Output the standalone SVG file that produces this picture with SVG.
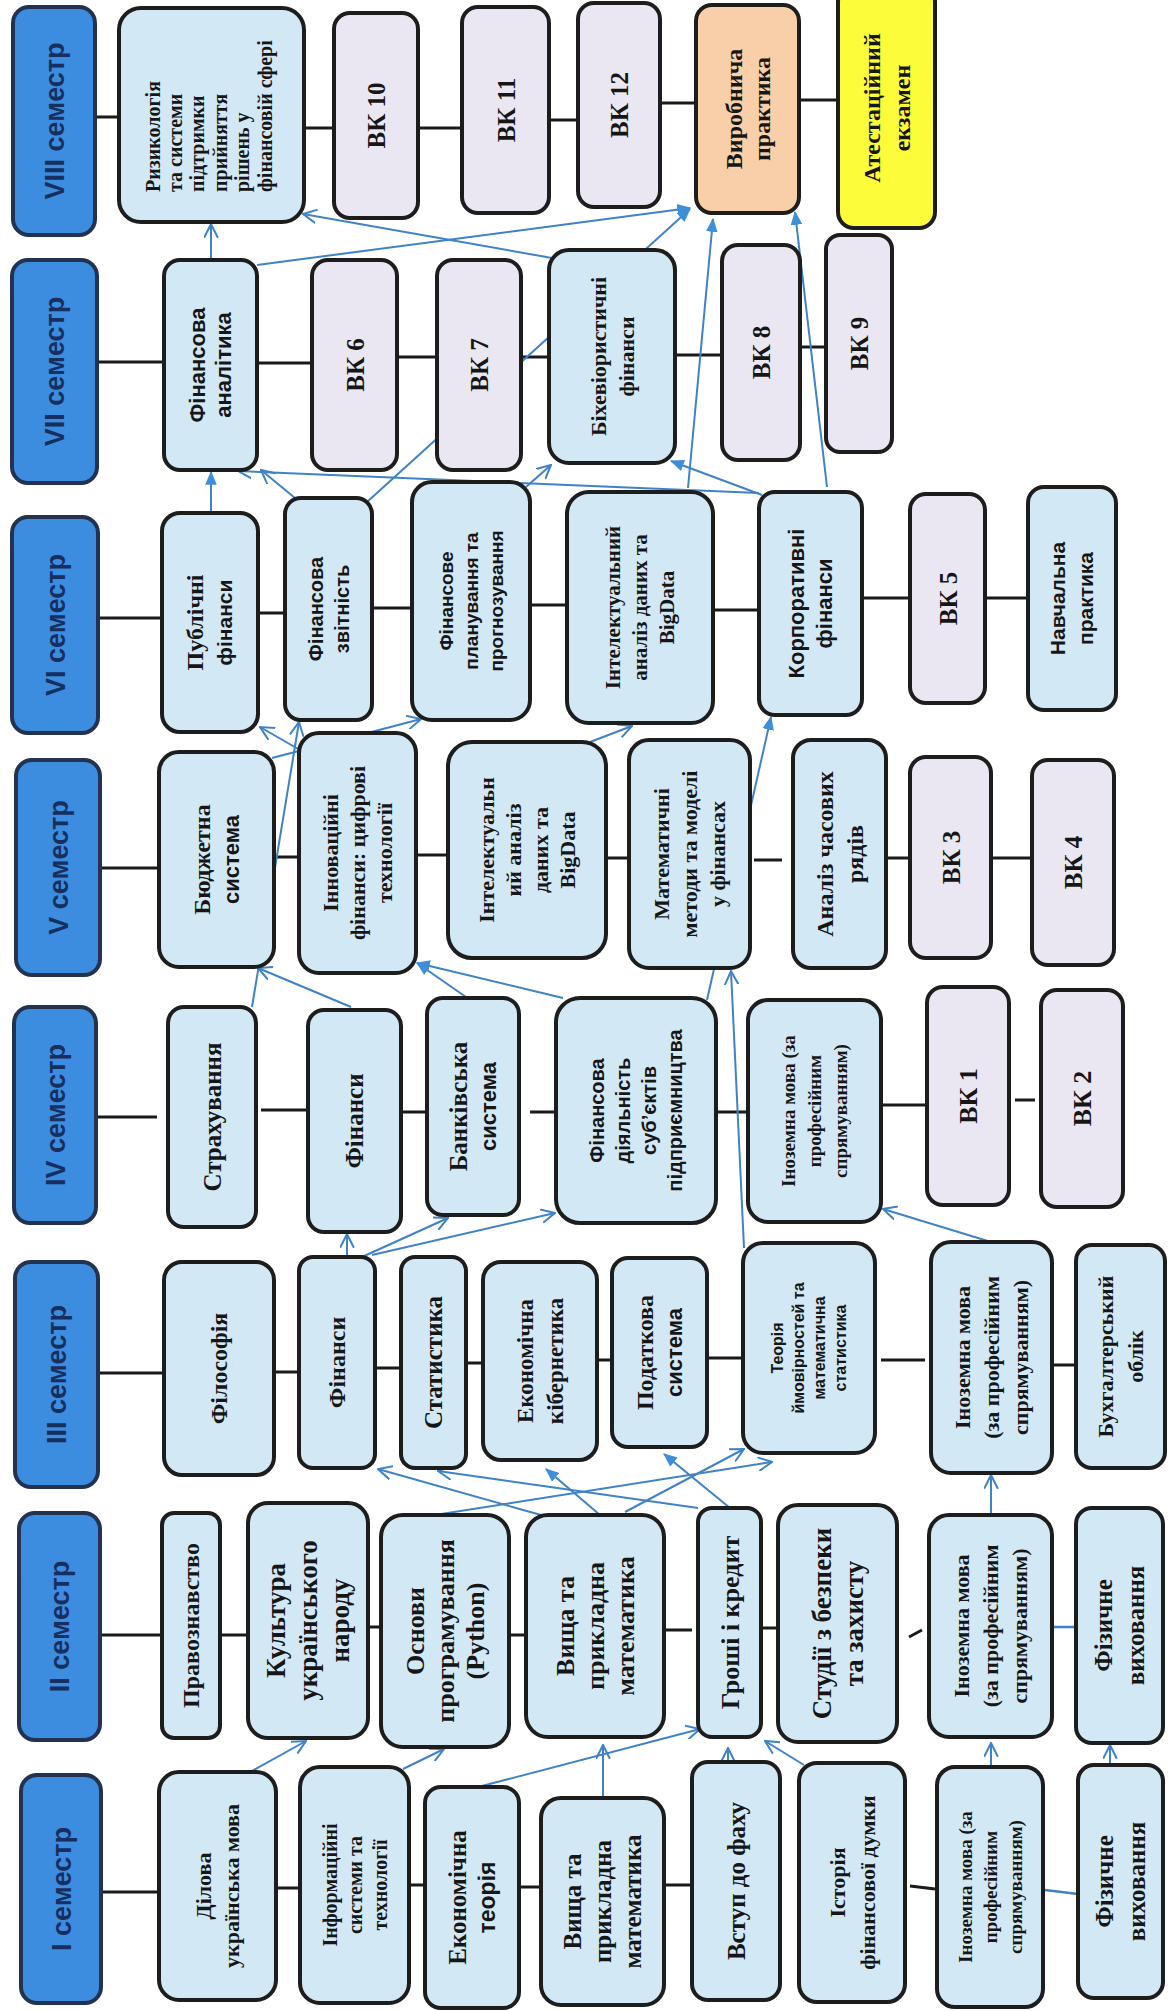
<svg xmlns="http://www.w3.org/2000/svg" width="1169" height="2011" viewBox="0 0 1169 2011">
<style>
.hd{fill:#3c8de0;stroke:#22324f;stroke-width:4}
.nb{fill:#d3e8f5;stroke:#1d1d1d;stroke-width:4}
.nv{fill:#ebe7f2;stroke:#1d1d1d;stroke-width:4}
.no{fill:#f8cfa8;stroke:#1d1d1d;stroke-width:4}
.ny{fill:#fcfc3a;stroke:#1d1d1d;stroke-width:4}
text{text-anchor:middle;fill:#161616}
.ht{font-family:"Liberation Sans",Arial,sans-serif;font-weight:bold;font-size:27px;fill:#172f5e}
.sf{font-family:"Liberation Serif","Times New Roman",serif;font-weight:bold}
.ss{font-family:"Liberation Sans",Arial,sans-serif;font-weight:bold}
.ln{stroke:#1a1a1a;stroke-width:3;fill:none}
.lb{stroke:#3f82c6;stroke-width:2.5;fill:none}
.ao{stroke:#3f82c6;stroke-width:2;fill:none;marker-end:url(#mo)}
.af{stroke:#3f82c6;stroke-width:2;fill:none;marker-end:url(#mf)}
</style>
<defs>
<marker id="mo" viewBox="0 0 12 12" refX="11" refY="6" markerWidth="15" markerHeight="15" markerUnits="userSpaceOnUse" orient="auto"><path d="M0,0.5 L11,6 L0,11.5" fill="none" stroke="#3f82c6" stroke-width="1.6"/></marker>
<marker id="mf" viewBox="0 0 12 12" refX="11" refY="6" markerWidth="14" markerHeight="14" markerUnits="userSpaceOnUse" orient="auto"><path d="M0,1 L12,6 L0,11 z" fill="#3f8fd8"/></marker>
</defs>
<rect width="1169" height="2011" fill="#ffffff"/>

<g id="connectors">
<path class="ln" d="M95,117H119 M304,128H334 M418,128H462 M549,120H578 M660,103H696 M799,100H838
M99,362H164 M257,363H312 M397,357H437 M521,357H549 M675,355H722 M800,347H826
M98,618H162 M258,613H285 M372,608H412 M530,605H567 M713,610H759 M862,598H910 M985,598H1028
M100,868H159 M274,857H299 M416,855H448 M606,858H629 M754,860H782 M886,858H910 M991,858H1032
M96,1117H157 M261,1110H308 M401,1112H427 M530,1112H556 M716,1112H748 M881,1105H927 M1015,1100H1035
M98,1373H164 M274,1372H299 M375,1368H401 M466,1363H483 M597,1360H612 M707,1358H743 M881,1360H925 M1052,1365H1076
M100,1635H162 M220,1635H248 M368,1627H381 M509,1635H526 M664,1630H692 M761,1628H778 M909,1637L922,1630
M101,1892H159 M276,1888H300 M409,1885H425 M519,1887H541 M664,1885H690 M910,1886L935,1889"/>
<path class="lb" d="M1052,1627H1076 M1045,1890L1078,1894"/>
<line class="ao" x1="211" y1="260" x2="211" y2="224"/>
<line class="af" x1="257" y1="265" x2="690" y2="208"/>
<line class="ao" x1="552" y1="258" x2="303" y2="214"/>
<line class="af" x1="367" y1="502" x2="690" y2="209"/>
<line class="af" x1="688" y1="488" x2="713" y2="219"/>
<line class="af" x1="827" y1="487" x2="795" y2="212"/>
<line class="af" x1="211" y1="513" x2="211" y2="472"/>
<line class="ao" x1="295" y1="498" x2="261" y2="470"/>
<line class="ao" x1="759" y1="493" x2="238" y2="471"/>
<line class="af" x1="762" y1="495" x2="671" y2="461"/>
<line class="ao" x1="526" y1="487" x2="551" y2="465"/>
<line class="ao" x1="272" y1="758" x2="421" y2="719"/>
<line class="ao" x1="300" y1="750" x2="260" y2="727"/>
<line class="ao" x1="252" y1="1007" x2="299" y2="722"/>
<line class="ao" x1="351" y1="1007" x2="258" y2="968"/>
<line class="af" x1="466" y1="997" x2="417" y2="963"/>
<line class="af" x1="563" y1="998" x2="417" y2="963"/>
<line class="ao" x1="590" y1="742" x2="632" y2="726"/>
<line class="af" x1="707" y1="1000" x2="771" y2="717"/>
<line class="ao" x1="744" y1="1248" x2="731" y2="971"/>
<line class="ao" x1="991" y1="1242" x2="883" y2="1209"/>
<line class="ao" x1="347" y1="1257" x2="347" y2="1234"/>
<line class="ao" x1="362" y1="1257" x2="448" y2="1218"/>
<line class="ao" x1="372" y1="1255" x2="555" y2="1213"/>
<line class="ao" x1="541" y1="1515" x2="378" y2="1469"/>
<line class="ao" x1="698" y1="1508" x2="438" y2="1471"/>
<line class="ao" x1="422" y1="1517" x2="772" y2="1462"/>
<line class="ao" x1="625" y1="1512" x2="744" y2="1449"/>
<line class="af" x1="600" y1="1515" x2="546" y2="1469"/>
<line class="af" x1="730" y1="1508" x2="664" y2="1454"/>
<line class="ao" x1="991" y1="1515" x2="991" y2="1475"/>
<line class="ao" x1="250" y1="1772" x2="306" y2="1741"/>
<line class="ao" x1="403" y1="1769" x2="444" y2="1749"/>
<line class="ao" x1="478" y1="1787" x2="700" y2="1729"/>
<line class="ao" x1="603" y1="1798" x2="603" y2="1745"/>
<line class="ao" x1="728" y1="1762" x2="728" y2="1748"/>
<line class="ao" x1="804" y1="1765" x2="765" y2="1741"/>
<line class="ao" x1="991" y1="1767" x2="991" y2="1743"/>
<line class="ao" x1="1110" y1="1765" x2="1110" y2="1745"/>
</g>

<g id="h8"><rect class="hd" x="13" y="7" width="82" height="228" rx="16"/><text class="ht" transform="translate(54,121) rotate(-90)" y="9.5">VIII семестр</text></g>
<g id="h7"><rect class="hd" x="12" y="260" width="85" height="223" rx="16"/><text class="ht" transform="translate(54.5,371.5) rotate(-90)" y="9.5">VII семестр</text></g>
<g id="h6"><rect class="hd" x="12" y="517" width="86" height="216" rx="16"/><text class="ht" transform="translate(55,625) rotate(-90)" y="9.5">VI семестр</text></g>
<g id="h5"><rect class="hd" x="16" y="760" width="84" height="215" rx="16"/><text class="ht" transform="translate(58,867.5) rotate(-90)" y="9.5">V семестр</text></g>
<g id="h4"><rect class="hd" x="14" y="1007" width="82" height="216" rx="16"/><text class="ht" transform="translate(55,1115) rotate(-90)" y="9.5">IV семестр</text></g>
<g id="h3"><rect class="hd" x="15" y="1262" width="83" height="225" rx="16"/><text class="ht" transform="translate(56.5,1374.5) rotate(-90)" y="9.5">III семестр</text></g>
<g id="h2"><rect class="hd" x="19" y="1513" width="81" height="227" rx="16"/><text class="ht" transform="translate(59.5,1626.5) rotate(-90)" y="9.5">II семестр</text></g>
<g id="h1"><rect class="hd" x="21" y="1775" width="80" height="228" rx="16"/><text class="ht" transform="translate(61,1889) rotate(-90)" y="9.5">I семестр</text></g>

<g id="n_riz"><rect class="nb" x="119" y="8" width="185" height="214" rx="22"/><text class="sf" font-size="20" transform="translate(211.5,115) rotate(-90)" style="text-anchor:start"><tspan x="-77" y="-52">Ризикологія</tspan><tspan x="-77" y="-29.6">та системи</tspan><tspan x="-77" y="-7.2">підтримки</tspan><tspan x="-77" y="15.2">прийняття</tspan><tspan x="-77" y="37.6">рішень у</tspan><tspan x="-77" y="60">фінансовій сфері</tspan></text></g>
<g id="n_vk10"><rect class="nv" x="334" y="13" width="84" height="205" rx="16"/><text class="sf" font-size="25" transform="translate(376,115.5) rotate(-90)" y="9">ВК 10</text></g>
<g id="n_vk11"><rect class="nv" x="462" y="7" width="87" height="206" rx="16"/><text class="sf" font-size="25" transform="translate(505.5,110) rotate(-90)" y="9">ВК 11</text></g>
<g id="n_vk12"><rect class="nv" x="578" y="3" width="82" height="204" rx="16"/><text class="sf" font-size="25" transform="translate(619,105) rotate(-90)" y="9">ВК 12</text></g>
<g id="n_vyr"><rect class="no" x="696" y="5" width="103" height="208" rx="16"/><text class="sf" font-size="24" transform="translate(747.5,109) rotate(-90)"><tspan x="0" y="-5.6">Виробнича</tspan><tspan x="0" y="22.4">практика</tspan></text></g>
<g id="n_att"><rect class="ny" x="838" y="-14" width="97" height="242" rx="16"/><text class="sf" font-size="24" transform="translate(886.5,108) rotate(-90)"><tspan x="0" y="-6.6">Атестаційний</tspan><tspan x="0" y="23.4">екзамен</tspan></text></g>

<g id="n_fa"><rect class="nb" x="164" y="260" width="93" height="210" rx="16"/><text class="ss" font-size="22" transform="translate(210.5,365) rotate(-90)"><tspan x="0" y="-5.3">Фінансова</tspan><tspan x="0" y="20.7">аналітика</tspan></text></g>
<g id="n_vk6"><rect class="nv" x="312" y="260" width="85" height="210" rx="16"/><text class="sf" font-size="25" transform="translate(354.5,365) rotate(-90)" y="9">ВК 6</text></g>
<g id="n_vk7"><rect class="nv" x="437" y="260" width="84" height="210" rx="16"/><text class="sf" font-size="25" transform="translate(479,365) rotate(-90)" y="9">ВК 7</text></g>
<g id="n_bih"><rect class="nb" x="549" y="250" width="126" height="213" rx="20"/><text class="sf" font-size="22" transform="translate(612,356.5) rotate(-90)"><tspan x="0" y="-6.3">Біхевіористичні</tspan><tspan x="0" y="21.7">фінанси</tspan></text></g>
<g id="n_vk8"><rect class="nv" x="722" y="245" width="78" height="215" rx="16"/><text class="sf" font-size="25" transform="translate(761,352.5) rotate(-90)" y="9">ВК 8</text></g>
<g id="n_vk9"><rect class="nv" x="826" y="235" width="66" height="217" rx="14"/><text class="sf" font-size="25" transform="translate(859,343.5) rotate(-90)" y="9">ВК 9</text></g>

<g id="n_pub"><rect class="nb" x="162" y="513" width="96" height="219" rx="18"/><text transform="translate(210,622.5) rotate(-90)"><tspan class="sf" font-size="24" x="0" y="-6.6">Публічні</tspan><tspan class="ss" font-size="21" x="0" y="22.35">фінанси</tspan></text></g>
<g id="n_zvit"><rect class="nb" x="285" y="498" width="87" height="222" rx="16"/><text class="ss" font-size="20" transform="translate(328.5,609) rotate(-90)"><tspan x="0" y="-6">Фінансова</tspan><tspan x="0" y="20">звітність</tspan></text></g>
<g id="n_plan"><rect class="nb" x="412" y="482" width="118" height="238" rx="20"/><text class="ss" font-size="19" transform="translate(471,601) rotate(-90)"><tspan x="0" y="-18.35">Фінансове</tspan><tspan x="0" y="6.65">планування та</tspan><tspan x="0" y="31.65">прогнозування</tspan></text></g>
<g id="n_int6"><rect class="nb" x="567" y="492" width="146" height="231" rx="22"/><text class="sf" font-size="21" transform="translate(640,607.5) rotate(-90)"><tspan x="0" y="-19.65">Інтелектуальний</tspan><tspan x="0" y="7.35">аналіз даних та</tspan><tspan x="0" y="34.35">BigData</tspan></text></g>
<g id="n_korp"><rect class="nb" x="759" y="492" width="103" height="223" rx="16"/><text class="ss" font-size="22" transform="translate(810.5,603.5) rotate(-90)"><tspan x="0" y="-6.3">Корпоративні</tspan><tspan x="0" y="21.7">фінанси</tspan></text></g>
<g id="n_vk5"><rect class="nv" x="910" y="494" width="75" height="209" rx="16"/><text class="sf" font-size="25" transform="translate(947.5,598.5) rotate(-90)" y="9">ВК 5</text></g>
<g id="n_nav"><rect class="nb" x="1028" y="487" width="88" height="223" rx="16"/><text class="ss" font-size="21" transform="translate(1072,598.5) rotate(-90)"><tspan x="0" y="-6.65">Навчальна</tspan><tspan x="0" y="21.35">практика</tspan></text></g>

<g id="n_bud"><rect class="nb" x="159" y="752" width="115" height="215" rx="20"/><text transform="translate(216.5,859.5) rotate(-90)"><tspan class="sf" font-size="24" x="0" y="-6.6">Бюджетна</tspan><tspan class="ss" font-size="22" x="0" y="22.7">система</tspan></text></g>
<g id="n_inn"><rect class="nb" x="299" y="733" width="117" height="240" rx="20"/><text class="sf" font-size="22" transform="translate(357.5,853) rotate(-90)"><tspan x="0" y="-19.3">Інноваційні</tspan><tspan x="0" y="7.7">фінанси: цифрові</tspan><tspan x="0" y="34.7">технології</tspan></text></g>
<g id="n_int5"><rect class="nb" x="448" y="742" width="158" height="216" rx="24"/><text class="sf" font-size="22" transform="translate(527,850) rotate(-90)"><tspan x="0" y="-32.8">Інтелектуальн</tspan><tspan x="0" y="-5.8">ий аналіз</tspan><tspan x="0" y="21.2">даних та</tspan><tspan x="0" y="48.2">BigData</tspan></text></g>
<g id="n_mat"><rect class="nb" x="629" y="740" width="121" height="228" rx="20"/><text class="sf" font-size="22" transform="translate(689.5,854) rotate(-90)"><tspan x="0" y="-20.3">Математичні</tspan><tspan x="0" y="7.7">методи та моделі</tspan><tspan x="0" y="35.7">у фінансах</tspan></text></g>
<g id="n_chas"><rect class="nb" x="793" y="740" width="93" height="228" rx="18"/><text class="sf" font-size="24" transform="translate(839.5,854) rotate(-90)"><tspan x="0" y="-6.6">Аналіз часових</tspan><tspan x="0" y="23.4">рядів</tspan></text></g>
<g id="n_vk3"><rect class="nv" x="910" y="757" width="81" height="201" rx="16"/><text class="sf" font-size="25" transform="translate(950.5,857.5) rotate(-90)" y="9">ВК 3</text></g>
<g id="n_vk4"><rect class="nv" x="1032" y="760" width="82" height="205" rx="16"/><text class="sf" font-size="25" transform="translate(1073,862.5) rotate(-90)" y="9">ВК 4</text></g>

<g id="n_strah"><rect class="nb" x="168" y="1007" width="88" height="220" rx="16"/><text class="sf" font-size="25" transform="translate(212,1117) rotate(-90)" y="8.75">Страхування</text></g>
<g id="n_fin4"><rect class="nb" x="308" y="1010" width="93" height="222" rx="16"/><text class="sf" font-size="25" transform="translate(354.5,1121) rotate(-90)" y="8.75">Фінанси</text></g>
<g id="n_bank"><rect class="nb" x="427" y="998" width="92" height="217" rx="16"/><text transform="translate(473,1106.5) rotate(-90)"><tspan class="sf" font-size="25" x="0" y="-6.25">Банківська</tspan><tspan class="ss" font-size="22" x="0" y="22.7">система</tspan></text></g>
<g id="n_fd"><rect class="nb" x="556" y="998" width="160" height="225" rx="24"/><text class="ss" font-size="20" transform="translate(636,1110.5) rotate(-90)"><tspan x="0" y="-32">Фінансова</tspan><tspan x="0" y="-6">діяльність</tspan><tspan x="0" y="20">суб’єктів</tspan><tspan x="0" y="46">підприємництва</tspan></text></g>
<g id="n_in4"><rect class="nb" x="748" y="1000" width="133" height="222" rx="20"/><text class="sf" font-size="19" transform="translate(814.5,1111) rotate(-90)"><tspan x="0" y="-19.35">Іноземна мова (за</tspan><tspan x="0" y="6.65">професійним</tspan><tspan x="0" y="32.65">спрямуванням)</tspan></text></g>
<g id="n_vk1"><rect class="nv" x="927" y="987" width="82" height="218" rx="16"/><text class="sf" font-size="26" transform="translate(968,1096) rotate(-90)" y="9.1">ВК 1</text></g>
<g id="n_vk2"><rect class="nv" x="1041" y="990" width="82" height="217" rx="16"/><text class="sf" font-size="26" transform="translate(1082,1098.5) rotate(-90)" y="9.1">ВК 2</text></g>

<g id="n_fil"><rect class="nb" x="164" y="1262" width="110" height="213" rx="18"/><text class="sf" font-size="24" transform="translate(219,1368.5) rotate(-90)" y="8.4">Філософія</text></g>
<g id="n_fin3"><rect class="nb" x="299" y="1257" width="76" height="211" rx="14"/><text class="sf" font-size="24" transform="translate(337,1362.5) rotate(-90)" y="8.4">Фінанси</text></g>
<g id="n_stat"><rect class="nb" x="401" y="1257" width="65" height="211" rx="14"/><text class="sf" font-size="25" transform="translate(433.5,1362.5) rotate(-90)" y="8.75">Статистика</text></g>
<g id="n_ekib"><rect class="nb" x="483" y="1262" width="114" height="198" rx="18"/><text class="sf" font-size="23" transform="translate(540,1361) rotate(-90)"><tspan x="0" y="-6.95">Економічна</tspan><tspan x="0" y="23.05">кібернетика</tspan></text></g>
<g id="n_pod"><rect class="nb" x="612" y="1258" width="95" height="189" rx="16"/><text transform="translate(659.5,1352.5) rotate(-90)"><tspan class="sf" font-size="24" x="0" y="-6.6">Податкова</tspan><tspan class="ss" font-size="22" x="0" y="22.7">система</tspan></text></g>
<g id="n_teor"><rect class="nb" x="743" y="1243" width="132" height="210" rx="20"/><text class="ss" font-size="16" transform="translate(809,1348) rotate(-90)"><tspan x="0" y="-25.9">Теорія</tspan><tspan x="0" y="-4.9">ймовірностей та</tspan><tspan x="0" y="16.1">математична</tspan><tspan x="0" y="37.1">статистика</tspan></text></g>
<g id="n_in3"><rect class="nb" x="931" y="1242" width="121" height="231" rx="20"/><text class="sf" font-size="22" transform="translate(991.5,1357.5) rotate(-90)"><tspan x="0" y="-21.3">Іноземна мова</tspan><tspan x="0" y="7.7">(за професійним</tspan><tspan x="0" y="36.7">спрямуванням)</tspan></text></g>
<g id="n_buh"><rect class="nb" x="1076" y="1245" width="89" height="223" rx="16"/><text class="sf" font-size="22" transform="translate(1120.5,1356.5) rotate(-90)"><tspan x="0" y="-7.3">Бухгалтерський</tspan><tspan x="0" y="22.7">облік</tspan></text></g>

<g id="n_prav"><rect class="nb" x="162" y="1513" width="58" height="225" rx="12"/><text class="sf" font-size="24" transform="translate(191,1625.5) rotate(-90)" y="8.4">Правознавство</text></g>
<g id="n_kult"><rect class="nb" x="248" y="1503" width="120" height="235" rx="20"/><text class="sf" font-size="27" transform="translate(308,1620.5) rotate(-90)"><tspan x="0" y="-22.55">Культура</tspan><tspan x="0" y="9.45">українського</tspan><tspan x="0" y="41.45">народу</tspan></text></g>
<g id="n_osn"><rect class="nb" x="381" y="1515" width="128" height="232" rx="22"/><text class="sf" font-size="26" transform="translate(445,1631) rotate(-90)"><tspan x="0" y="-20.9">Основи</tspan><tspan x="0" y="9.1">програмування</tspan><tspan x="0" y="39.1">(Python)</tspan></text></g>
<g id="n_vys2"><rect class="nb" x="526" y="1515" width="138" height="222" rx="22"/><text class="sf" font-size="26" transform="translate(595,1626) rotate(-90)"><tspan x="0" y="-20.9">Вища та</tspan><tspan x="0" y="9.1">прикладна</tspan><tspan x="0" y="39.1">математика</tspan></text></g>
<g id="n_hr"><rect class="nb" x="698" y="1508" width="63" height="229" rx="14"/><text class="sf" font-size="26" transform="translate(729.5,1622.5) rotate(-90)" y="9.1">Гроші і кредит</text></g>
<g id="n_stud"><rect class="nb" x="778" y="1505" width="119" height="237" rx="20"/><text class="sf" font-size="27" transform="translate(837.5,1623.5) rotate(-90)"><tspan x="0" y="-6.55">Студії з безпеки</tspan><tspan x="0" y="25.45">та захисту</tspan></text></g>
<g id="n_in2"><rect class="nb" x="929" y="1515" width="123" height="222" rx="20"/><text class="sf" font-size="22" transform="translate(990.5,1626) rotate(-90)"><tspan x="0" y="-21.3">Іноземна мова</tspan><tspan x="0" y="7.7">(за професійним</tspan><tspan x="0" y="36.7">спрямуванням)</tspan></text></g>
<g id="n_fiz2"><rect class="nb" x="1076" y="1508" width="87" height="235" rx="16"/><text class="sf" font-size="25" transform="translate(1119.5,1625.5) rotate(-90)"><tspan x="0" y="-7.25">Фізичне</tspan><tspan x="0" y="24.75">виховання</tspan></text></g>

<g id="n_dil"><rect class="nb" x="159" y="1772" width="117" height="228" rx="20"/><text class="sf" font-size="22" transform="translate(217.5,1886) rotate(-90)"><tspan x="0" y="-6.3">Ділова</tspan><tspan x="0" y="21.7">українська мова</tspan></text></g>
<g id="n_inf"><rect class="nb" x="300" y="1767" width="109" height="236" rx="20"/><text class="sf" font-size="20" transform="translate(354.5,1885) rotate(-90)"><tspan x="0" y="-18">Інформаційні</tspan><tspan x="0" y="7">системи та</tspan><tspan x="0" y="32">технології</tspan></text></g>
<g id="n_ekt"><rect class="nb" x="425" y="1787" width="94" height="221" rx="16"/><text transform="translate(472,1897.5) rotate(-90)"><tspan class="sf" font-size="25" x="0" y="-6.25">Економічна</tspan><tspan class="ss" font-size="23" x="0" y="23.05">теорія</tspan></text></g>
<g id="n_vys1"><rect class="nb" x="541" y="1798" width="123" height="207" rx="20"/><text class="sf" font-size="25" transform="translate(602.5,1901.5) rotate(-90)"><tspan x="0" y="-21.25">Вища та</tspan><tspan x="0" y="8.75">прикладна</tspan><tspan x="0" y="38.75">математика</tspan></text></g>
<g id="n_vst"><rect class="nb" x="692" y="1762" width="88" height="238" rx="16"/><text class="sf" font-size="25" transform="translate(736,1881) rotate(-90)" y="8.75">Вступ до фаху</text></g>
<g id="n_ist"><rect class="nb" x="799" y="1763" width="106" height="239" rx="18"/><text class="sf" font-size="22" transform="translate(852,1882.5) rotate(-90)"><tspan x="0" y="-7.3">Історія</tspan><tspan x="0" y="22.7">фінансової думки</tspan></text></g>
<g id="n_in1"><rect class="nb" x="937" y="1767" width="106" height="240" rx="18"/><text class="sf" font-size="19" transform="translate(990,1887) rotate(-90)"><tspan x="0" y="-18.35">Іноземна мова (за</tspan><tspan x="0" y="6.65">професійним</tspan><tspan x="0" y="31.65">спрямуванням)</tspan></text></g>
<g id="n_fiz1"><rect class="nb" x="1078" y="1765" width="85" height="233" rx="16"/><text class="sf" font-size="25" transform="translate(1120.5,1881.5) rotate(-90)"><tspan x="0" y="-7.25">Фізичне</tspan><tspan x="0" y="24.75">виховання</tspan></text></g>
</svg>
